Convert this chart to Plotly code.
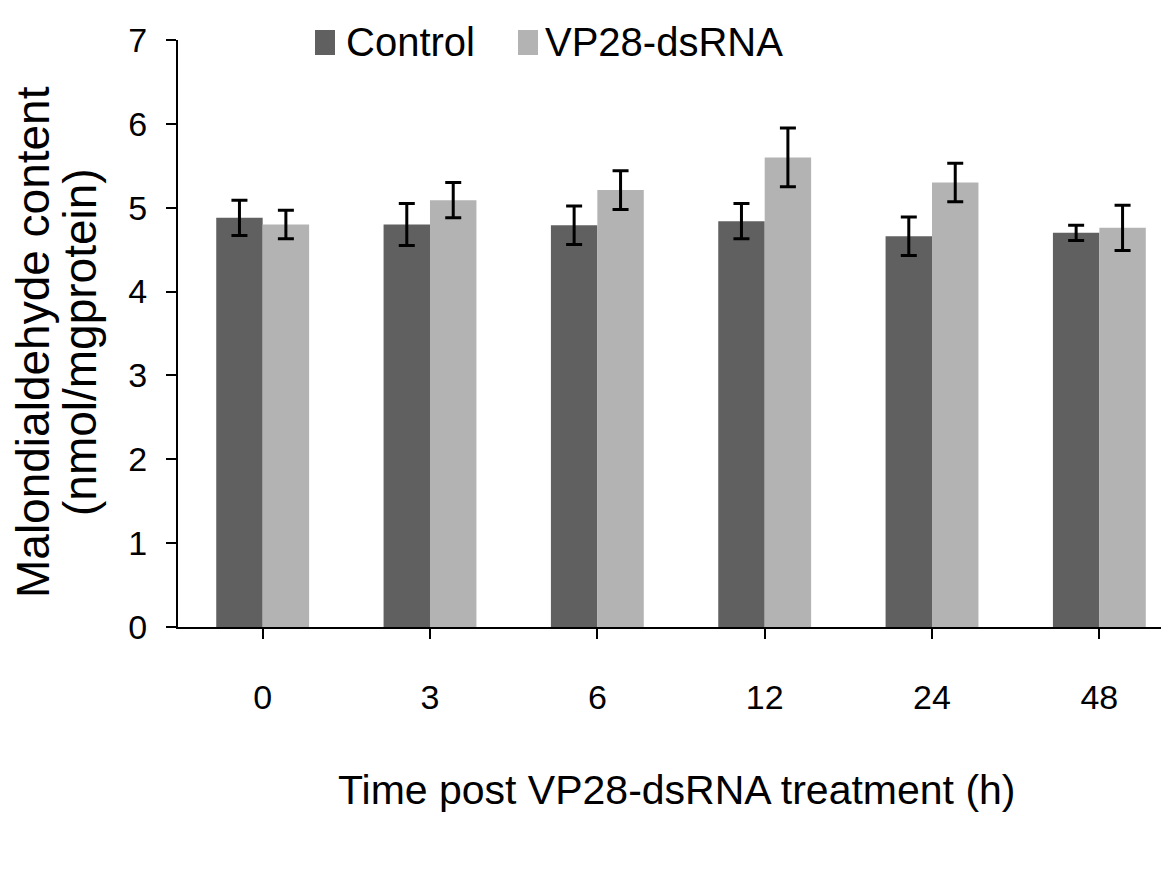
import plotly.graph_objects as go

categories = ["0", "3", "6", "12", "24", "48"]
control = [4.88, 4.80, 4.79, 4.84, 4.66, 4.70]
control_err = [0.21, 0.25, 0.23, 0.21, 0.23, 0.09]
vp28 = [4.80, 5.09, 5.21, 5.60, 5.30, 4.76]
vp28_err = [0.17, 0.21, 0.23, 0.35, 0.23, 0.27]
series_names = ["Control", "VP28-dsRNA"]
colors = ["#606060", "#b3b3b3"]

FONT = "Liberation Sans, Arial, sans-serif"

fig = go.Figure()
for name, vals, errs, col in zip(series_names, [control, vp28], [control_err, vp28_err], colors):
    fig.add_trace(go.Bar(
        x=categories, y=vals, name=name, marker=dict(color=col, line=dict(width=0)),
        error_y=dict(type="data", array=errs, visible=True, color="black", thickness=3, width=8),
        showlegend=False,
    ))

# page offset (body margin) and target plot area in page pixels: x 178..1177, y 40..627
OFF = 8
W, H = 1169, 875
L, T = 178 - OFF, 40 - OFF
B = OFF + H - 627
R = 0
pw, ph = W - L - R, H - T - B

def px(xp):
    return (xp - OFF - L) / pw

def py(yp):
    return (T + ph - (yp - OFF)) / ph

shapes = []
annotations = []
legend_x = [315, 518]
legend_text_x = [344, 543]
for name, col, mx, tx in zip(series_names, colors, legend_x, legend_text_x):
    shapes.append(dict(type="rect", xref="paper", yref="paper",
                       x0=px(mx), x1=px(mx + 20), y0=py(55), y1=py(30),
                       fillcolor=col, line=dict(width=0)))
    annotations.append(dict(text=name, xref="paper", yref="paper", x=px(tx), y=py(42),
                            xanchor="left", yanchor="middle", showarrow=False,
                            font=dict(family=FONT, size=40, color="black")))

for txt, cx in [("Malondialdehyde content", 33), ("(nmol/mgprotein)", 80)]:
    annotations.append(dict(text=txt, xref="paper", yref="paper",
                            x=px(cx), y=py(342), xanchor="center", yanchor="middle", textangle=-90,
                            showarrow=False, font=dict(family=FONT, size=46, color="black")))
annotations.append(dict(text="Time post VP28-dsRNA treatment (h)", xref="paper", yref="paper",
                        x=px(677), y=py(790), xanchor="center", yanchor="middle",
                        showarrow=False, font=dict(family=FONT, size=41, color="black")))

fig.update_layout(
    width=W, height=H,
    margin=dict(l=L, r=R, t=T, b=B),
    paper_bgcolor="white", plot_bgcolor="white",
    barmode="group", bargap=0.445, bargroupgap=0,
    shapes=shapes, annotations=annotations,
    font=dict(family=FONT, color="black"),
)
fig.update_xaxes(
    type="category", range=[-0.506, 5.464],
    showline=True, linecolor="black", linewidth=2,
    ticks="outside", ticklen=10, tickwidth=2, tickcolor="black",
    tickfont=dict(family=FONT, size=34, color="black"), ticklabelstandoff=29,
    showgrid=False, zeroline=False,
)
fig.update_yaxes(
    range=[0, 7], dtick=1, tick0=0,
    showline=True, linecolor="black", linewidth=2,
    ticks="outside", ticklen=10, tickwidth=2, tickcolor="black",
    tickfont=dict(family=FONT, size=34, color="black"), ticklabelstandoff=12,
    showgrid=False, zeroline=False,
)

fig.write_html("out.html")
